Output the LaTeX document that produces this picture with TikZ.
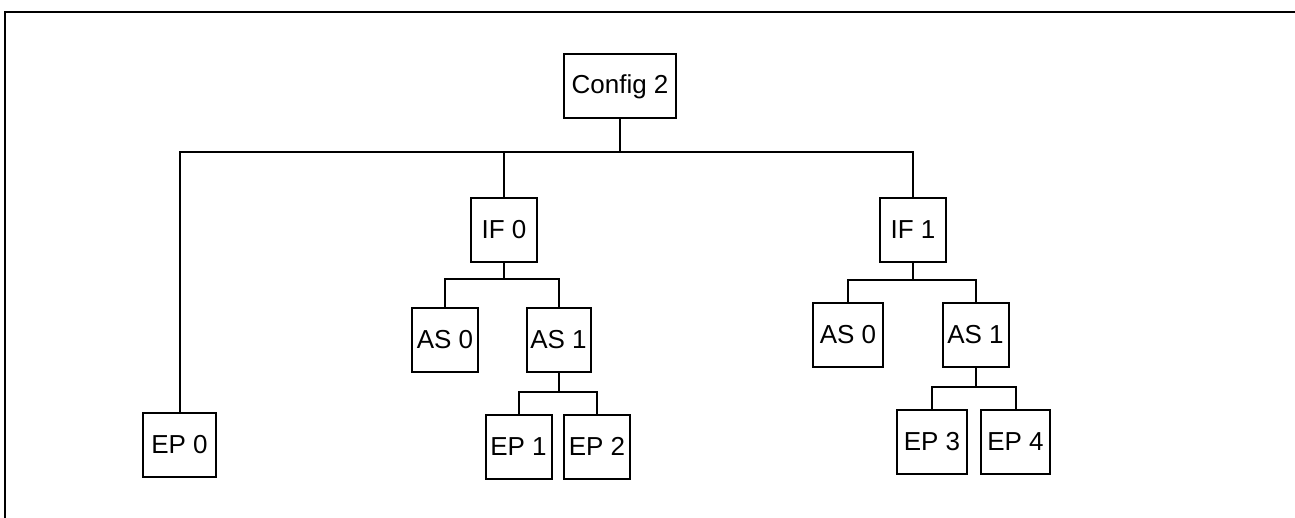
\documentclass[tikz,border=0pt]{standalone}
\usepackage{fontspec}
\setmainfont{Liberation Sans}
\begin{document}
\begin{tikzpicture}[x=0.5pt, y=-0.5pt,
  box/.style={draw, line width=1pt, minimum width=33pt, minimum height=32pt, inner sep=0pt, font=\fontsize{13}{15}\selectfont},
  link/.style={line width=1pt}
]
\useasboundingbox (0,0) rectangle (1295,518);
\draw[line width=1.2pt] (5,518) -- (5,12) -- (1295,12);

\node[box, minimum width=56pt] (cfg) at (620,86.5) {Config 2};
\node[box] (if0) at (504,230) {IF 0};
\node[box] (if1) at (913,230) {IF 1};
\node[box, minimum width=36.5pt] (ep0) at (179.5,445) {EP 0};
\node[box] (as0a) at (445,339.5) {AS 0};
\node[box, minimum width=32pt] (as1a) at (558.5,339.5) {AS 1};
\node[box] (ep1) at (518.5,446.5) {EP 1};
\node[box] (ep2) at (597,446.5) {EP 2};
\node[box, minimum width=35pt] (as0b) at (848,335) {AS 0};
\node[box] (as1b) at (975.5,335) {AS 1};
\node[box, minimum width=35pt] (ep3) at (932,442) {EP 3};
\node[box, minimum width=34.5pt] (ep4) at (1015.5,442) {EP 4};

\coordinate (bus) at (0,152);
\coordinate (busa) at (0,279);
\coordinate (busb) at (0,392);
\coordinate (busc) at (0,280);
\coordinate (busd) at (0,387);

\draw[link] (cfg.south) -- (cfg.south |- bus);
\draw[link] (ep0.north) |- (if1.north |- bus) -- (if1.north);
\draw[link] (if0.north) -- (if0.north |- bus);

\draw[link] (if0.south) -- (if0.south |- busa);
\draw[link] (as0a.north) |- (as1a.north |- busa) -- (as1a.north);
\draw[link] (as1a.south) -- (as1a.south |- busb);
\draw[link] (ep1.north) |- (ep2.north |- busb) -- (ep2.north);

\draw[link] (if1.south) -- (if1.south |- busc);
\draw[link] (as0b.north) |- (as1b.north |- busc) -- (as1b.north);
\draw[link] (as1b.south) -- (as1b.south |- busd);
\draw[link] (ep3.north) |- (ep4.north |- busd) -- (ep4.north);
\end{tikzpicture}
\end{document}
